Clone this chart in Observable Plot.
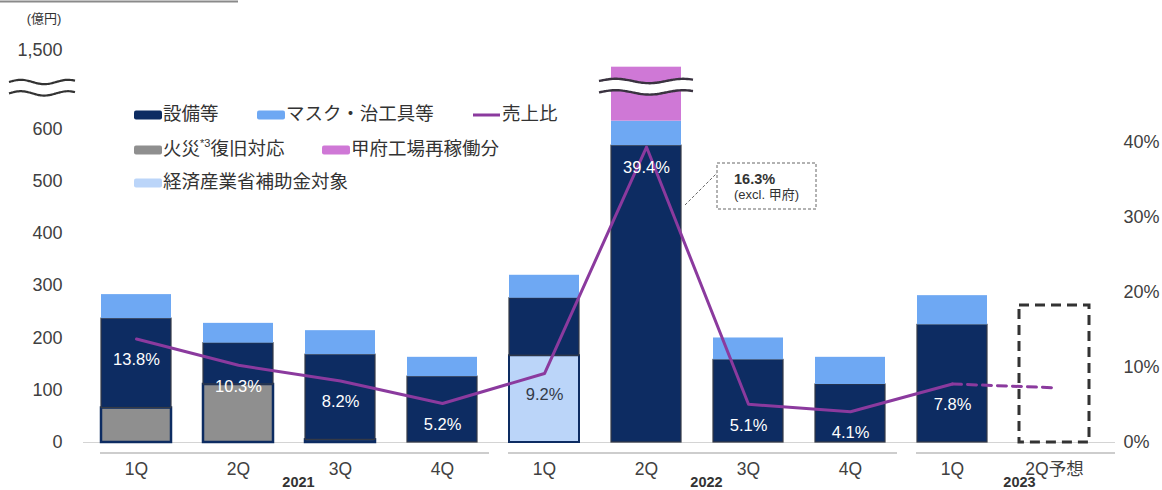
<!DOCTYPE html>
<html><head><meta charset="utf-8">
<script src="https://cdn.jsdelivr.net/npm/d3@7"></script>
<script src="https://cdn.jsdelivr.net/npm/@observablehq/plot@0.6"></script>
<style>
html,body{margin:0;padding:0;background:#fff;}
#chart{position:relative;width:1162px;height:490px;overflow:hidden;}
</style></head><body><div id="chart"></div>
<script>
// ---- data ----
const years = ["2021","2021","2021","2021","2022","2022","2022","2022","2023","2023"];
const quarters = ["1Q","2Q","3Q","4Q","1Q","2Q","3Q","4Q","1Q","2Q予想"];
const fireRecovery = [66,111,5,0,0,0,0,0,0];
const metiSubsidy  = [0,0,0,0,166,0,0,0,0];
const equipment    = [171,79,163,126,110,568,158,111,225];
const maskTooling  = [46,38,46,37,44,47,42,52,56];
const kofuRestart  = [0,0,0,0,0,871,0,0,0];
const salesRatio   = [13.8,10.3,8.2,5.2,9.2,39.4,5.1,4.1,7.8];
const forecastRatio = 7.3;
const forecastTotal = 262;
const kofuExclRatio = 16.3;
const seriesNames = ["火災復旧対応","経済産業省補助金対象","設備等","マスク・治工具等","甲府工場再稼働分"];
const ratioName = "売上比";
const leftTicks = [0,100,200,300,400,500,600,1500];
const rightTicks = [0,10,20,30,40];
const unitLabel = "(億円)";

// ---- build tables ----
const keys = years.map((y,i)=>y+" "+quarters[i]);
const seriesValues = [fireRecovery, metiSubsidy, equipment, maskTooling, kofuRestart];
const rows = [];
for (let i=0;i<equipment.length;i++) seriesNames.forEach((s,j)=>{ if (seriesValues[j][i] > 0) rows.push({key:keys[i], series:s, value:seriesValues[j][i]}); });
const lineRows = salesRatio.map((r,i)=>({key:keys[i], ratio:r, onMeti: metiSubsidy[i] > 0}));
const forecastRows = [lineRows[lineRows.length-1], {key:keys[keys.length-1], ratio:forecastRatio}];

// ---- style ----
const FONT = "'Liberation Sans', Arial, 'Noto Sans CJK JP', sans-serif";
const fills = {"火災復旧対応":"#8F8F8F","経済産業省補助金対象":"#BBD5F9","設備等":"#0D2C62","マスク・治工具等":"#6EA8F3","甲府工場再稼働分":"#CF78D6"};
const strokes = {"火災復旧対応":"#0D2C62","経済産業省補助金対象":"#0D2C62","設備等":"#343a46","マスク・治工具等":"none","甲府工場再稼働分":"none"};
const strokeWs = {"火災復旧対応":2.5,"経済産業省補助金対象":2,"設備等":1.2,"マスク・治工具等":0,"甲府工場再稼働分":0};
const PURPLE = "#8B3A9E";
const K = 574/40; // left-axis units per 1% on the right axis

const chart = Plot.plot({
  width: 1162, height: 490,
  marginLeft: 83, marginRight: 47, marginTop: 50, marginBottom: 48,
  style: {fontFamily: FONT, color: "#404040", background: "#fff"},
  x: {type: "band", domain: keys, range: [83.2, 1106.5], paddingInner: 0.315, paddingOuter: 0.1575, axis: null},
  y: {type: "linear", domain: [0, 669, 1474, 1500], range: [442, 92.4, 81, 50], axis: null},
  color: {type: "identity"},
  marks: [
    Plot.ruleY([0], {stroke: "#d4d4d4", strokeWidth: 1.2}),
    Plot.barY(rows, Plot.stackY({x: "key", y: "value", z: "series",
      fill: d => fills[d.series], stroke: d => strokes[d.series], strokeWidth: d => strokeWs[d.series]})),
    Plot.barY([{key: keys[keys.length-1], value: forecastTotal}], {x: "key", y: "value", fill: "none", stroke: "#333", strokeWidth: 3, strokeDasharray: "10,6"}),
    Plot.line(lineRows, {x: "key", y: d => d.ratio*K, stroke: PURPLE, strokeWidth: 3}),
    Plot.line(forecastRows, {x: "key", y: d => d.ratio*K, stroke: PURPLE, strokeWidth: 3, strokeDasharray: "9,6"}),
    Plot.text(lineRows, {x: "key", y: d => d.ratio*K, text: d => d.ratio.toFixed(1)+"%", dy: 21, fontSize: 16.5,
      fill: d => d.onMeti ? "#333a48" : "#ffffff"}),
    Plot.axisY({anchor: "left", ticks: leftTicks, tickFormat: d3.format(","), tickSize: 0, tickPadding: 21, fontSize: 18, label: null}),
    Plot.axisY({anchor: "right", ticks: rightTicks.map(p => p*K), tickFormat: d => Math.round(d/K)+"%", tickSize: 0, tickPadding: 8, fontSize: 18, label: null}),
    Plot.axisX({tickSize: 0, tickPadding: 20, fontSize: 17.5, tickFormat: k => quarters[keys.indexOf(k)], label: null})
  ]
});
document.getElementById("chart").appendChild(chart);

// ---- decorations tied to the scales ----
const svg = d3.select(chart);
const xS = chart.scale("x"), yS = chart.scale("y");
const bw = xS.bandwidth;
const bx = k => xS.apply(k);

function wave(x0, x1, y, amp, cycles) {
  const n = 48;
  return d3.range(n+1).map(i => [x0 + (x1-x0)*i/n, y - amp*Math.sin(i/n*cycles*2*Math.PI)]);
}
const yBreakTop = yS.apply(1474), yBreakBot = yS.apply(669);
const deco = svg.append("g").attr("text-anchor","start");

// top-left rule
deco.append("line").attr("x1",0).attr("x2",238).attr("y1",1.5).attr("y2",1.5).attr("stroke","#8a8a8a").attr("stroke-width",2);
// unit label
deco.append("text").attr("x",44).attr("y",20).attr("text-anchor","middle").attr("dominant-baseline","middle")
  .attr("font-size",13).attr("fill","#333").text(unitLabel);

// axis break
[yBreakTop, yBreakBot].forEach(y => deco.append("path").attr("d", d3.line().curve(d3.curveBasis)(wave(9, 75, y+1, 2.2, 1.4)))
  .attr("fill","none").attr("stroke","#333").attr("stroke-width",2.2));

// bar break on the tall bar
{
  const k = keys[salesRatio.indexOf(d3.max(salesRatio))];
  const x0 = bx(k) - 12, x1 = bx(k) + bw + 12;
  const top = wave(x0, x1, yBreakTop, 2.2, 1.4), bot = wave(x0, x1, yBreakBot, 2.2, 1.4);
  deco.append("path").attr("d", d3.line()(top.concat(bot.slice().reverse())) + "Z").attr("fill","#fff");
  [top, bot].forEach(p => deco.append("path").attr("d", d3.line().curve(d3.curveBasis)(p)).attr("fill","none").attr("stroke","#3a3340").attr("stroke-width",2.4));

  // callout
  const cx = bx(k) + bw + 36, cy = 163;
  deco.append("line").attr("x1", bx(k)+bw+4).attr("y1", 205).attr("x2", cx).attr("y2", 173)
    .attr("stroke","#666").attr("stroke-width",1).attr("stroke-dasharray","3,2");
  deco.append("rect").attr("x",cx).attr("y",cy).attr("width",99).attr("height",46)
    .attr("fill","#fff").attr("stroke","#666").attr("stroke-width",1).attr("stroke-dasharray","3,2");
  deco.append("text").attr("x",cx+17).attr("y",cy+17).attr("dominant-baseline","middle").attr("font-size",14.5).attr("font-weight","bold").attr("fill","#333").text(kofuExclRatio.toFixed(1)+"%");
  deco.append("text").attr("x",cx+17).attr("y",cy+33).attr("dominant-baseline","middle").attr("font-size",13).attr("fill","#333").text("(excl. 甲府)");
}

// year groups
const groups = Array.from(new Set(years));
groups.forEach((g, gi) => {
  const ks = keys.filter((k,i) => years[i] === g);
  const x0 = bx(ks[0]) - 1, x1 = bx(ks[ks.length-1]) + bw + (gi === groups.length-1 ? 26 : 12);
  deco.append("line").attr("x1",x0).attr("x2",x1).attr("y1",453).attr("y2",453).attr("stroke","#bdbdbd").attr("stroke-width",1.5);
  deco.append("text").attr("x",(x0+x1)/2+4).attr("y",487).attr("text-anchor","middle").attr("font-size",14.5).attr("font-weight","bold").attr("fill","#333").text(g);
});

// legend
const legend = deco.append("g").attr("font-size",18.5).attr("fill","#333").attr("text-anchor","start");
const legendItems = [
  {name: seriesNames[2], kind: "rect", x: 134, y: 115},
  {name: seriesNames[3], kind: "rect", x: 257, y: 115},
  {name: ratioName, kind: "line", x: 473, y: 115},
  {name: seriesNames[0], kind: "rect", x: 134, y: 150, sup: true},
  {name: seriesNames[4], kind: "rect", x: 322, y: 150},
  {name: seriesNames[1], kind: "rect", x: 134, y: 183}
];
legendItems.forEach(it => {
  if (it.kind === "rect") legend.append("rect").attr("x",it.x).attr("y",it.y-4.5).attr("width",28).attr("height",9).attr("rx",2).attr("fill",fills[it.name]);
  else legend.append("line").attr("x1",it.x).attr("x2",it.x+27).attr("y1",it.y).attr("y2",it.y).attr("stroke",PURPLE).attr("stroke-width",3);
  const t = legend.append("text").attr("x",it.x+29).attr("y",it.y).attr("dominant-baseline","middle");
  if (it.sup) {
    t.append("tspan").text(it.name.slice(0,2));
    t.append("tspan").attr("font-size",11).attr("dy",-6).text("*3");
    t.append("tspan").attr("dy",6).text(it.name.slice(2));
  } else t.text(it.name);
});
</script>
</body></html>
